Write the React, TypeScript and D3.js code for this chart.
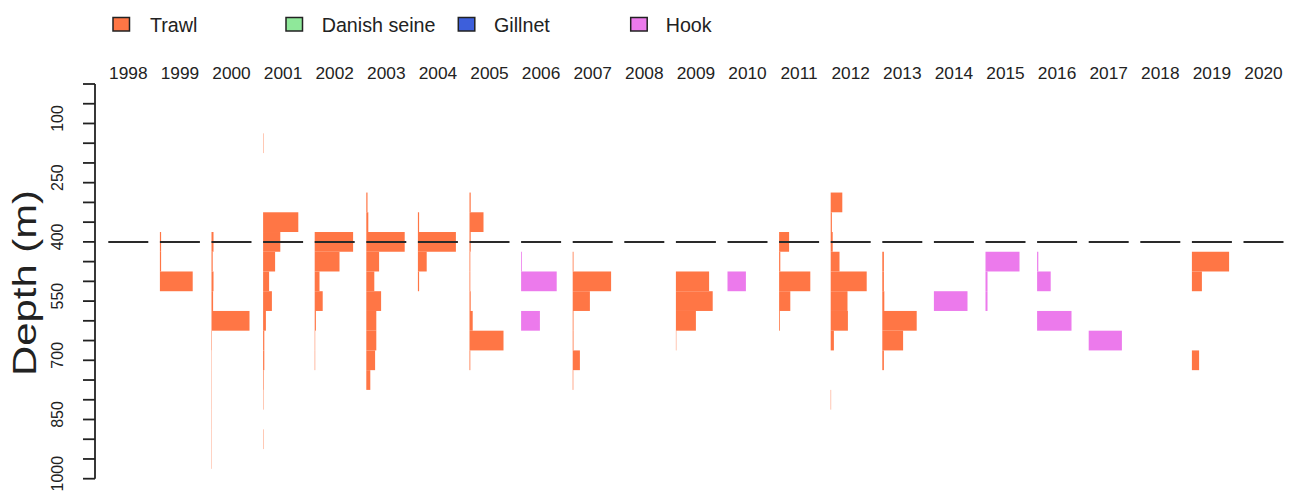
import React from "react";
import * as d3 from "d3";

// ---- data ----
const years = [
  "1998", "1999", "2000", "2001", "2002", "2003", "2004", "2005", "2006", "2007", "2008",
  "2009", "2010", "2011", "2012", "2013", "2014", "2015", "2016", "2017", "2018", "2019", "2020",
];
const gears = ["Trawl", "Danish seine", "Gillnet", "Hook"];
const gearColors = ["#FF7645", "#8FE89A", "#3D5FDB", "#EC7AEC"];
const depthTicks = d3.range(0, 1001, 50);
const depthLabels = [100, 250, 400, 550, 700, 850, 1000];
const referenceDepth = 400;
const binHalf = 25;

// [year, depth-bin centre (m), relative share of year's catch]
const trawlCells: [string, number, number][] = [
  ["1999", 400, 0.03], ["1999", 450, 0.03], ["1999", 500, 0.82],
  ["2000", 400, 0.05], ["2000", 450, 0.03], ["2000", 500, 0.05], ["2000", 550, 0.04], ["2000", 600, 0.95],
  ["2000", 650, 0.012], ["2000", 700, 0.008], ["2000", 750, 0.008], ["2000", 800, 0.008], ["2000", 850, 0.008],
  ["2000", 900, 0.008], ["2000", 950, 0.008],
  ["2001", 150, 0.01], ["2001", 350, 0.88], ["2001", 400, 0.43], ["2001", 450, 0.3], ["2001", 500, 0.15],
  ["2001", 550, 0.22], ["2001", 600, 0.07], ["2001", 650, 0.03], ["2001", 700, 0.03], ["2001", 750, 0.015],
  ["2001", 800, 0.01], ["2001", 900, 0.01],
  ["2002", 400, 0.96], ["2002", 450, 0.62], ["2002", 500, 0.12], ["2002", 550, 0.2], ["2002", 600, 0.03],
  ["2002", 650, 0.012], ["2002", 700, 0.012],
  ["2003", 300, 0.03], ["2003", 350, 0.05], ["2003", 400, 0.96], ["2003", 450, 0.32], ["2003", 500, 0.2],
  ["2003", 550, 0.37], ["2003", 600, 0.25], ["2003", 650, 0.25], ["2003", 700, 0.22], ["2003", 750, 0.1],
  ["2004", 350, 0.03], ["2004", 400, 0.95], ["2004", 450, 0.22], ["2004", 500, 0.03],
  ["2005", 300, 0.03], ["2005", 350, 0.35], ["2005", 400, 0.03], ["2005", 450, 0.02], ["2005", 500, 0.02],
  ["2005", 550, 0.03], ["2005", 600, 0.08], ["2005", 650, 0.85], ["2005", 700, 0.02],
  ["2007", 450, 0.02], ["2007", 500, 0.96], ["2007", 550, 0.43], ["2007", 600, 0.02], ["2007", 650, 0.02],
  ["2007", 700, 0.18], ["2007", 750, 0.015],
  ["2009", 500, 0.83], ["2009", 550, 0.92], ["2009", 600, 0.5], ["2009", 650, 0.01],
  ["2011", 400, 0.25], ["2011", 450, 0.03], ["2011", 500, 0.78], ["2011", 550, 0.28], ["2011", 600, 0.02],
  ["2012", 300, 0.29], ["2012", 350, 0.03], ["2012", 400, 0.05], ["2012", 450, 0.22], ["2012", 500, 0.9],
  ["2012", 550, 0.42], ["2012", 600, 0.43], ["2012", 650, 0.08], ["2012", 800, 0.01],
  ["2013", 450, 0.04], ["2013", 500, 0.04], ["2013", 550, 0.05], ["2013", 600, 0.86], ["2013", 650, 0.52],
  ["2013", 700, 0.04],
  ["2019", 450, 0.93], ["2019", 500, 0.25], ["2019", 700, 0.18],
];
const danishSeineCells: [string, number, number][] = [];
const gillnetCells: [string, number, number][] = [];
const hookCells: [string, number, number][] = [
  ["2006", 450, 0.02], ["2006", 500, 0.89], ["2006", 600, 0.47],
  ["2010", 500, 0.46],
  ["2014", 550, 0.84],
  ["2015", 450, 0.85], ["2015", 500, 0.05], ["2015", 550, 0.05],
  ["2016", 450, 0.03], ["2016", 500, 0.34], ["2016", 600, 0.86],
  ["2017", 650, 0.83],
];

const FONT = "'Liberation Sans', Arial, Helvetica, sans-serif";

export default function App() {
  const W = 1298;
  const H = 500;
  const panelW = 40;

  const x = d3.scalePoint<string>().domain(years).range([108.3, 108.3 + 22 * 51.6]);
  const y = d3.scaleLinear().domain([0, 1000]).range([84, 478.7]);
  const w = d3.scaleLinear().domain([0, 1]).range([0, panelW]);

  const series = [trawlCells, danishSeineCells, gillnetCells, hookCells];

  const axisX = 95;
  const legendRectX = [113, 286, 458.3, 630.7];
  const legendTextX = [150, 321.7, 494, 665.7];

  return (
    <svg
      width={W}
      height={H}
      style={{ position: "absolute", left: 0, top: 0, background: "#fff" }}
      fontFamily={FONT}
    >
      {/* legend */}
      {gears.map((g, i) => (
        <g key={g}>
          <rect
            x={legendRectX[i]}
            y={17.5}
            width={16.5}
            height={13.5}
            fill={gearColors[i]}
            stroke="#222"
            strokeWidth={1.5}
          />
          <text x={legendTextX[i]} y={31.5} fontSize={19.7} fill="#222">
            {g}
          </text>
        </g>
      ))}

      {/* year labels */}
      {years.map((yr) => (
        <text
          key={yr}
          x={(x(yr) as number) + panelW / 2}
          y={78.5}
          fontSize={17.3}
          textAnchor="middle"
          fill="#222"
        >
          {yr}
        </text>
      ))}

      {/* bars */}
      {series.map((cells, si) =>
        cells.map(([yr, depth, v], k) => (
          <rect
            key={`${si}-${k}`}
            x={x(yr) as number}
            y={y(depth - binHalf)}
            width={w(v)}
            height={y(depth + binHalf) - y(depth - binHalf)}
            fill={gearColors[si]}
          />
        ))
      )}

      {/* reference depth segments */}
      {years.map((yr) => (
        <line
          key={`ref-${yr}`}
          x1={x(yr) as number}
          x2={(x(yr) as number) + panelW}
          y1={y(referenceDepth)}
          y2={y(referenceDepth)}
          stroke="#2a2a2a"
          strokeWidth={2}
        />
      ))}

      {/* y axis */}
      <line x1={axisX} x2={axisX} y1={y(0)} y2={y(1000)} stroke="#222" strokeWidth={1.8} />
      {depthTicks.map((t) => (
        <line key={`t-${t}`} x1={axisX - 12} x2={axisX} y1={y(t)} y2={y(t)} stroke="#222" strokeWidth={1.8} />
      ))}
      {depthLabels.map((t) => (
        <text
          key={`l-${t}`}
          transform={`translate(63,${y(t) - 5}) rotate(-90)`}
          fontSize={16}
          textAnchor="middle"
          fill="#222"
        >
          {t}
        </text>
      ))}

      {/* y title */}
      <text
        transform={`translate(36,283) rotate(-90)`}
        fontSize={34}
        textAnchor="middle"
        textLength={186}
        lengthAdjust="spacingAndGlyphs"
        fill="#222"
      >
        Depth (m)
      </text>
    </svg>
  );
}
